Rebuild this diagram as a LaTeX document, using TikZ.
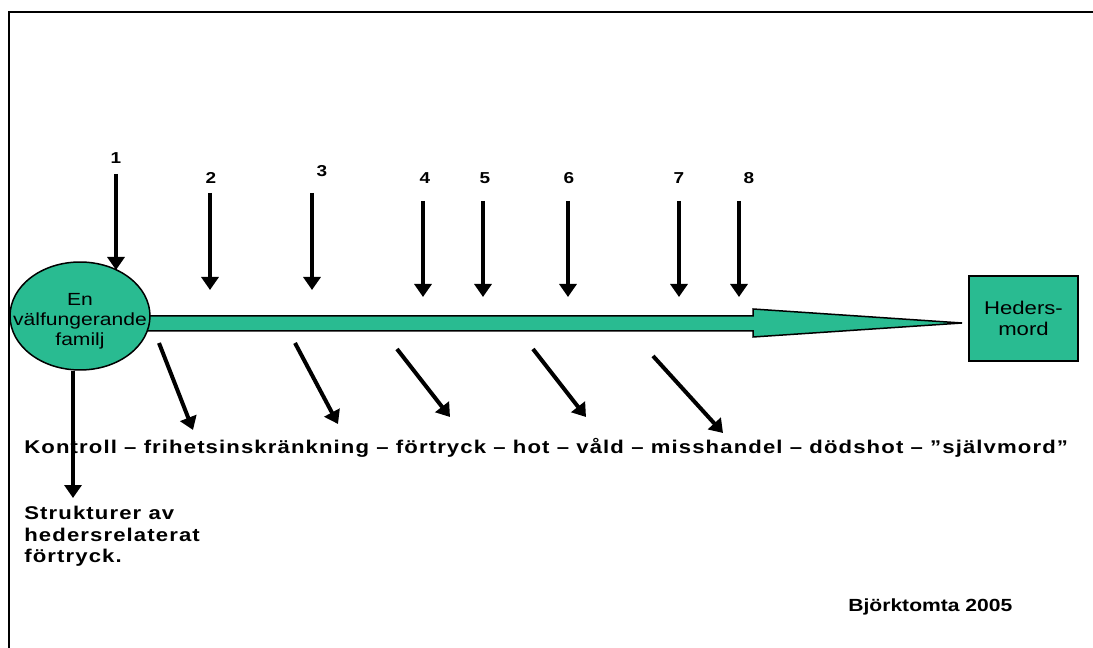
\documentclass[tikz,border=0pt]{standalone}
\usepackage{fontspec}
\setmainfont{Liberation Sans}
\newfontfamily\bred[FakeStretch=1.2]{Liberation Sans}
\usetikzlibrary{arrows.meta}
\usetikzlibrary{calc}
\usetikzlibrary{shapes.geometric}
\definecolor{gron}{RGB}{41,187,145}
\tikzset{
  pil/.style={line width=0.08cm,-{Triangle[width=0.34cm,length=0.26cm]}},
  nummer/.style={inner sep=0pt,font=\bred\bfseries\fontsize{9}{11}\selectfont},
  brodtext/.style={inner sep=0pt,font=\bred\bfseries\fontsize{10.5}{12.2}\selectfont\addfontfeature{LetterSpace=6}},
}

\begin{document}
\begin{tikzpicture}[x=0.02cm,y=-0.02cm]
                \useasboundingbox (0,0) rectangle (1093,648);
                \draw[line width=0.04cm] (1093,12) -- (9,12) -- (9,648);
                % blockpilen
                \coordinate (spets) at (962,323);
                \draw[fill=gron,line width=0.03cm] (130,316) -- (753,316) -- (753,309) -- (spets)
                    -- (753,337) -- (753,331) -- (130,331) -- cycle;
                \node[ellipse,draw,fill=gron,line width=0.03cm,minimum width=2.8cm,minimum height=2.16cm,
                    inner xsep=-0.4cm,inner ysep=0pt,align=center,font=\bred\fontsize{10}{11.6}\selectfont]
                    (fam) at (80,316) {\vphantom{Ej}\\[-6pt]En\\välfungerande\\familj};
                \node[rectangle,draw,fill=gron,line width=0.03cm,minimum width=2.18cm,minimum height=1.7cm,
                    align=center,font=\bred\fontsize{10.5}{12.3}\selectfont]
                    (mord) at (1023.5,318.5) {Heders-\\mord};
                % siffror och pilar uppifraan
                \node[nummer] (n1) at (116,158) {1};
                \node[nummer] (n2) at (211,178) {2};
                \node[nummer] (n3) at (322,171) {3};
                \node[nummer] (n4) at (425,178) {4};
                \node[nummer] (n5) at (485,178) {5};
                \node[nummer] (n6) at (569,178) {6};
                \node[nummer] (n7) at (679,178) {7};
                \node[nummer] (n8) at (749,178) {8};
                \coordinate (t1) at (116,270);
                \coordinate (t2) at (210,290);
                \coordinate (t3) at (312,290);
                \coordinate (t4) at (423,297);
                \coordinate (t5) at (483,297);
                \coordinate (t6) at (568,297);
                \coordinate (t7) at (679,297);
                \coordinate (t8) at (739,297);
                \draw[pil] ($(n1.south)+(0,10)$) -- (t1);
                \draw[pil] (t2 |- 0,193) -- (t2);
                \draw[pil] (t3 |- 0,193) -- (t3);
                \draw[pil] (t4 |- 0,201) -- (t4);
                \draw[pil] (t5 |- 0,201) -- (t5);
                \draw[pil] (t6 |- 0,201) -- (t6);
                \draw[pil] (t7 |- 0,201) -- (t7);
                \draw[pil] (t8 |- 0,201) -- (t8);
                % sneda pilar nedaat
                \coordinate (s1) at (159,343);
                \coordinate (e1) at (193,430);
                \coordinate (s2) at (295,343);
                \coordinate (e2) at (338,424);
                \coordinate (s3) at (397,349);
                \coordinate (e3) at (450,417);
                \coordinate (s4) at (533,349);
                \coordinate (e4) at (586,417);
                \coordinate (s5) at (653,356);
                \coordinate (e5) at (723,433);
                \draw[pil] (s1) -- (e1);
                \draw[pil] (s2) -- (e2);
                \draw[pil] (s3) -- (e3);
                \draw[pil] (s4) -- (e4);
                \draw[pil] (s5) -- (e5);
                % texter
                \node[brodtext,anchor=west] (kedja) at (24,448)
                    {Kontroll – frihetsinskränkning – förtryck – hot – våld – misshandel – dödshot – ”självmord”};
                \node[brodtext,anchor=north west,align=left] (struktur) at (24,506)
                    {Strukturer av\\hedersrelaterat\\förtryck.};
                \coordinate (f1) at (73,498);
                \draw[pil] (fam.south -| f1) -- (f1);
                \node[anchor=west,inner sep=0pt,font=\bred\bfseries\fontsize{10}{12}\selectfont]
                    (namn) at (848,607) {Björktomta 2005};
            \end{tikzpicture}
\end{document}
